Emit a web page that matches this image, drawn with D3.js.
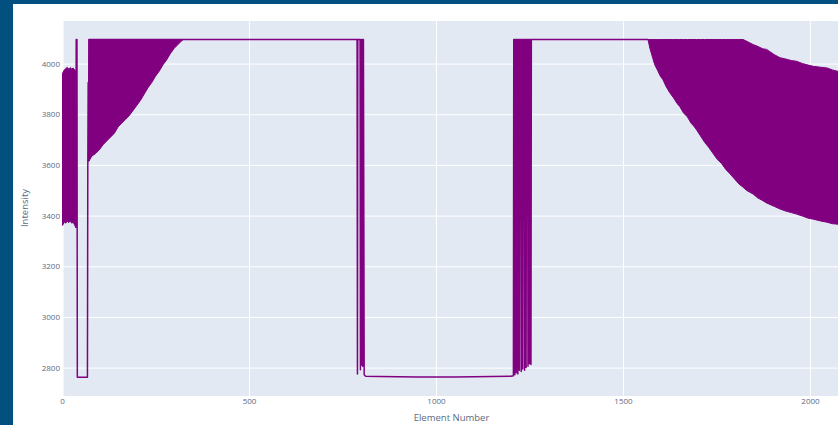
<!DOCTYPE html>
<html>
<head>
<meta charset="utf-8">
<script src="https://cdn.jsdelivr.net/npm/d3@7"></script>
<style>
  body { margin: 0; background: #01507f; }
  svg { display: block; }
</style>
</head>
<body>
<div id="chart"></div>
<script>
// tick values
const elementTicks = [0, 500, 1000, 1500, 2000];
const intensityTicks = [2800, 3000, 3200, 3400, 3600, 3800, 4000];

// oscillating parts: [element, low envelope, high envelope]
const bandStart = [
  [0, 3360, 3960], [3, 3365, 3966], [6, 3375, 3975], [10, 3370, 3980],
  [14, 3378, 3985], [18, 3372, 3978], [22, 3380, 3984], [26, 3370, 3979],
  [30, 3374, 3982], [34, 3362, 3975], [37, 3352, 3970]
];

const bandRise = [
  [72, 3615, 4095], [80, 3635, 4095], [90, 3645, 4095], [100, 3660, 4095],
  [110, 3680, 4095], [120, 3695, 4095], [130, 3710, 4095], [140, 3725, 4095],
  [150, 3750, 4095], [160, 3765, 4095], [170, 3780, 4095], [180, 3795, 4095],
  [190, 3815, 4095], [200, 3835, 4095], [210, 3855, 4095], [220, 3880, 4095],
  [230, 3905, 4095], [240, 3925, 4095], [250, 3950, 4095], [260, 3970, 4095],
  [270, 3995, 4095], [280, 4015, 4095], [290, 4040, 4095], [300, 4060, 4095],
  [310, 4075, 4095], [320, 4090, 4095], [325, 4095, 4095]
];

const bandEnd = [
  [1567, 4095, 4095], [1572, 4060, 4095], [1578, 4030, 4095], [1585, 3995, 4095],
  [1592, 3975, 4095], [1600, 3950, 4095], [1607, 3936, 4095], [1615, 3910, 4095],
  [1625, 3885, 4095], [1635, 3865, 4095], [1645, 3842, 4095], [1652, 3830, 4095],
  [1662, 3805, 4095], [1672, 3790, 4095], [1682, 3765, 4095], [1690, 3752, 4095],
  [1697, 3738, 4095], [1707, 3715, 4095], [1718, 3690, 4095], [1730, 3668, 4095],
  [1741, 3645, 4095], [1752, 3622, 4095], [1764, 3605, 4095], [1775, 3582, 4095],
  [1786, 3565, 4095], [1798, 3545, 4095], [1810, 3525, 4095], [1821, 3512, 4095],
  [1831, 3499, 4088], [1848, 3485, 4075], [1860, 3470, 4068], [1874, 3459, 4058],
  [1884, 3450, 4056], [1905, 3436, 4035], [1920, 3426, 4023], [1935, 3418, 4018],
  [1950, 3412, 4012], [1964, 3406, 4009], [1980, 3398, 4000], [1995, 3390, 3994],
  [2009, 3386, 3989], [2025, 3380, 3986], [2045, 3374, 3983], [2060, 3368, 3975],
  [2075, 3366, 3969], [2090, 3362, 3965]
];

// the rest of the signal, drawn as a plain line: [element, intensity]
const trace = [
  [37, 3352], [38, 4095], [40, 4095], [41, 2762], [68, 2762], [69, 3600],
  [70, 3925], [71, 3615], [72, 4095], [325, 4095], [789, 4095],
  [790, 2775], [791, 4095], [797, 4095], [798, 2792], [799, 4095],
  [801, 2810], [802, 4095], [803, 4095], [804, 2805], [805, 4095],
  [806, 4095], [808, 2772], [812, 2766],
  [850, 2765], [900, 2764], [950, 2763], [1000, 2763], [1050, 2763],
  [1100, 2764], [1150, 2765], [1200, 2766], [1207, 2768],
  [1208, 4095], [1210, 4095], [1211, 2772], [1212, 4095], [1214, 4095],
  [1215, 2780], [1216, 4095], [1218, 4095], [1219, 2775], [1220, 4095],
  [1222, 4095], [1223, 2790], [1224, 4095], [1227, 4095], [1228, 2785],
  [1229, 4095], [1231, 4095], [1232, 2795], [1233, 4095], [1236, 4095],
  [1237, 2790], [1238, 4095], [1240, 4095], [1241, 2800], [1242, 4095],
  [1245, 4095], [1246, 2805], [1247, 4095], [1249, 4095], [1250, 2815],
  [1251, 4095], [1253, 4095], [1254, 2812], [1255, 4095], [1567, 4095]
];

const W = 838, H = 425;
const plot = {left: 62, top: 21, right: 841, bottom: 396};
const lineColor = "purple";
const textColor = "#5b6a82";

const svg = d3.select("#chart").append("svg")
  .attr("width", W).attr("height", H);

svg.append("rect").attr("width", W).attr("height", H).attr("fill", "#01507f");
svg.append("rect").attr("x", 13).attr("y", 4)
  .attr("width", W - 13).attr("height", H - 4).attr("fill", "#fff");

svg.append("rect")
  .attr("x", plot.left).attr("y", plot.top)
  .attr("width", plot.right - plot.left).attr("height", plot.bottom - plot.top)
  .attr("fill", "#e3e9f3");

const x = d3.scaleLinear().domain([0, 2083]).range([plot.left, plot.right]);
const y = d3.scaleLinear().domain([2688, 4168]).range([plot.bottom, plot.top]);

// grid + tick labels
const yAxis = svg.append("g")
  .attr("transform", "translate(" + plot.left + ",0)")
  .call(d3.axisLeft(y).tickValues(intensityTicks)
    .tickSize(-(plot.right - plot.left)).tickPadding(2).tickFormat(d3.format("d")));

const xAxis = svg.append("g")
  .attr("transform", "translate(0," + plot.bottom + ")")
  .call(d3.axisBottom(x).tickValues(elementTicks)
    .tickSize(-(plot.bottom - plot.top)).tickPadding(2.5).tickFormat(d3.format("d")));

[xAxis, yAxis].forEach(function(g) {
  g.select(".domain").remove();
  g.selectAll(".tick line").attr("stroke", "#fff").attr("stroke-width", 1);
  g.selectAll(".tick text")
    .attr("fill", textColor)
    .attr("font-family", "Open Sans, sans-serif")
    .attr("font-size", "8px");
});
xAxis.selectAll(".tick line").filter(d => d === 0).attr("stroke-width", 2);

// data
svg.append("clipPath").attr("id", "clip")
  .append("rect")
  .attr("x", plot.left).attr("y", plot.top)
  .attr("width", plot.right - plot.left).attr("height", plot.bottom - plot.top);

const g = svg.append("g").attr("clip-path", "url(#clip)");

const area = d3.area()
  .x(d => x(d[0]))
  .y0(d => y(d[1]))
  .y1(d => y(d[2]));

[bandStart, bandRise, bandEnd].forEach(function(b) {
  g.append("path")
    .datum(b)
    .attr("d", area)
    .attr("fill", lineColor)
    .attr("stroke", lineColor)
    .attr("stroke-width", 1)
    .attr("stroke-linejoin", "round");
});

const line = d3.line()
  .x(d => x(d[0]))
  .y(d => y(d[1]));

g.append("path")
  .datum(trace)
  .attr("d", line)
  .attr("fill", "none")
  .attr("stroke", lineColor)
  .attr("stroke-width", 1.5)
  .attr("stroke-linejoin", "round");

// axis titles
svg.append("text")
  .attr("x", (plot.left + plot.right) / 2)
  .attr("y", 421)
  .attr("text-anchor", "middle")
  .attr("fill", textColor)
  .attr("font-family", "Open Sans, sans-serif")
  .attr("font-size", "9.5px")
  .text("Element Number");

svg.append("text")
  .attr("transform", "translate(28,208) rotate(-90)")
  .attr("text-anchor", "middle")
  .attr("fill", textColor)
  .attr("font-family", "Open Sans, sans-serif")
  .attr("font-size", "9.5px")
  .text("Intensity");
</script>
</body>
</html>
